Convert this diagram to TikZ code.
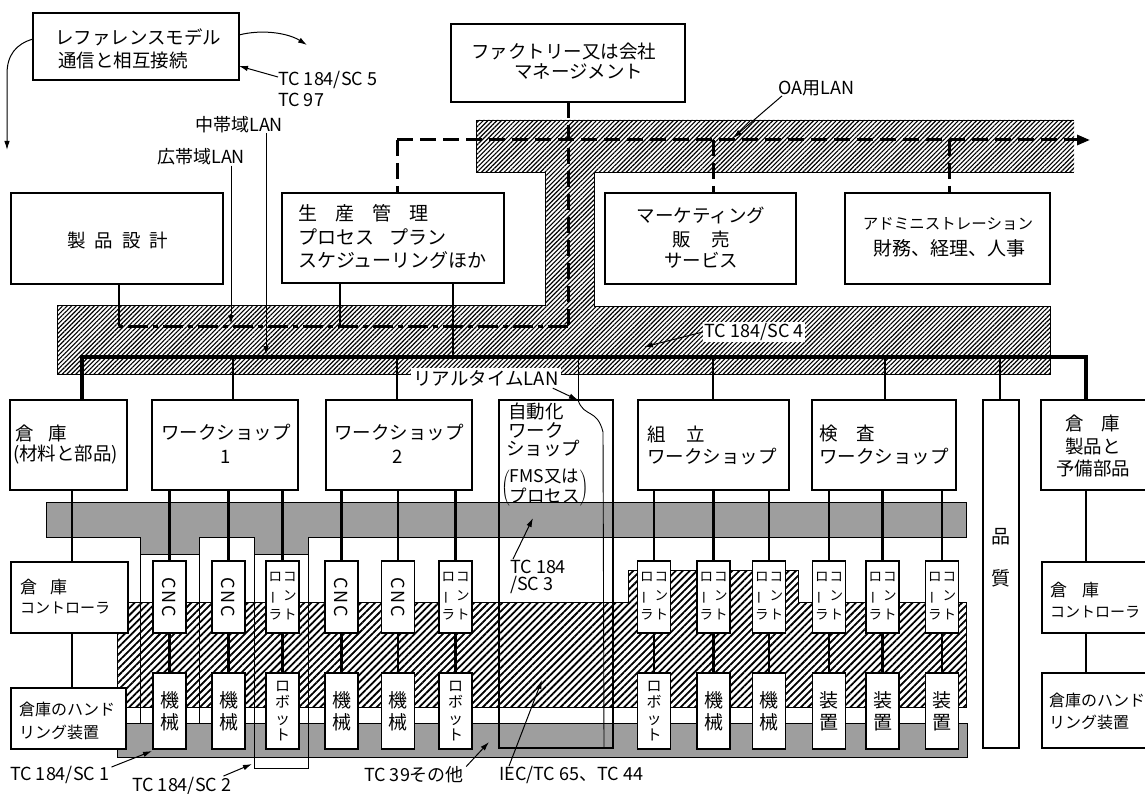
\documentclass[tikz,border=0pt]{standalone}
\usepackage{fontspec}
\usepackage{graphicx}
\setmainfont{Noto Sans CJK JP}
\usetikzlibrary{fit,patterns.meta,arrows.meta}
\newcommand\fsz[1]{\fontsize{#1}{#1}\selectfont}
\begin{document}
\begin{tikzpicture}[x=1pt,y=-1pt,
  box/.style={draw,line width=1.6pt,fill=white,inner sep=0pt,outer sep=0pt},
  tbox/.style={box,line width=2.6pt},
  cbox/.style={box,line width=1.3pt},
  tx/.style={inner sep=0pt,font=\fsz{18.5}},
  lb/.style={inner sep=0pt,font=\fsz{18}},
  busl/.style={line width=3.3pt},
  wire/.style={line width=2.8pt},
  hair/.style={line width=0.9pt},
  oa/.style={line width=3pt,dash pattern=on 16pt off 7pt},
  bb/.style={line width=3pt,dash pattern=on 20pt off 5pt on 5pt off 5pt},
  arr/.style={line width=1pt,-{Latex[length=9pt,width=5.5pt]}},
  hatchA/.style={pattern={Lines[angle=45,distance=3.2pt,line width=1.15pt]}},
  hatchB/.style={pattern={Lines[angle=45,distance=5pt,line width=1.8pt]}},
  stip/.style={fill=black!38},
]
\fill[white] (0,0) rectangle (1145,794);
\useasboundingbox (0,0) rectangle (1145,794);

% ---------- background regions ----------
\path[hatchA] (476,120) -- (1074,120) -- (1074,172) -- (594,172) -- (594,306) -- (1050,306) -- (1050,374) -- (57,374) -- (57,305) -- (545,305) -- (545,172) -- (476,172) -- cycle;
\draw[hair] (1074,120) -- (476,120) -- (476,172) -- (545,172) -- (545,305) -- (57,305) -- (57,374) -- (1050,374) -- (1050,306) -- (594,306) -- (594,172) -- (1074,172);

\draw[hair,stip] (46,502) -- (966,502) -- (966,537) -- (308,537) -- (308,554) -- (254,554) -- (254,537) -- (199,537) -- (199,554) -- (140,554) -- (140,537) -- (46,537) -- cycle;

\draw[hair,hatchB] (117,602) -- (628,602) -- (628,570) -- (798,570) -- (798,602) -- (966,602) -- (966,707) -- (117,707) -- cycle;

\draw[hair,stip] (117,723) rectangle (967,757);

\draw[hair] (140,554) -- (140,723);
\draw[hair] (199,554) -- (199,723);
\draw[hair] (254,554) -- (254,768) -- (308,768) -- (308,554);

% ---------- boxes ----------
\node[tbox,fit={(33,13) (239,80)}] (ref) {};
\node[tbox,fit={(451,24) (685,102)}] (fac) {};
\node[box,fit={(11,193) (223,284)}] (prod) {};
\node[box,fit={(282,193) (504,283)}] (seisan) {};
\node[box,fit={(605,193) (796,284)}] (mkt) {};
\node[box,fit={(845,193) (1050,284)}] (adm) {};

\node[box,fit={(10,400) (127,490)}] (wh1) {};
\node[box,fit={(152,400) (298,490)}] (ws1) {};
\node[box,fit={(326,400) (472,490)}] (ws2) {};
\node[box,fill=none,fit={(499,400) (613,748)}] (auto) {};
\node[box,fit={(638,400) (789,490)}] (asm) {};
\node[box,fit={(812,400) (956,490)}] (ins) {};
\node[box,fit={(983,400) (1019,748)}] (qc) {};
\node[box,fit={(1041,400) (1150,490)}] (wh2) {};
\node[box,fit={(11,562) (128,633)}] (whc1) {};
\node[box,fit={(1042,562) (1150,633)}] (whc2) {};
\node[box,fit={(11,688) (126,749)}] (whh1) {};
\node[box,fit={(1042,673) (1150,748)}] (whh2) {};

\foreach \i/\x in {1/169.5,2/228.5,3/282.5,4/341.5,5/398,6/455.5,7/654,8/713.5,9/769,10/829,11/882.5,12/942}{
  \node[cbox,fit={(\x-16.5,561) (\x+16.5,633)}] (c\i) {};
  \node[cbox,fit={(\x-16.5,673) (\x+16.5,749)}] (m\i) {};
}

% ---------- LAN lines ----------
\coordinate (oaL) at (397,140);
\coordinate (oaR) at (1090,140);
\coordinate (oaM) at (713,140);
\coordinate (oaA) at (949,140);
\coordinate (bbR) at (568,326);
\coordinate (bbL) at (119,326);
\coordinate (bbS) at (340,326);

\draw[oa,-{Triangle[length=13pt,width=10pt]}] (oaL) -- (oaR);
\draw[oa] (oaL) -- (oaL |- seisan.north);
\draw[oa] (oaM) -- (oaM |- mkt.north);
\draw[oa] (oaA) -- (oaA |- adm.north);
\draw[oa] (fac.south) -- (fac.south |- bbR);
\draw[bb] (bbR) -- (bbL);
\draw[wire] (prod.south -| bbL) -- (bbL);
\draw[wire] (seisan.south -| bbS) -- (bbS);

\coordinate (dWH1) at (82,357);
\coordinate (dWS1) at (233,357);
\coordinate (dWS2) at (397,357);
\coordinate (dSP) at (453,357);
\coordinate (dAU) at (578,357);
\coordinate (dAS) at (713,357);
\coordinate (dIN) at (885,357);
\coordinate (dQC) at (1000,357);
\coordinate (dWH2) at (1086,357);

\draw[busl] (dWH1 |- wh1.north) -- (dWH1) -- (dWH2) -- (dWH2 |- wh2.north);
\draw[wire] (dWS1) -- (dWS1 |- ws1.north);
\draw[wire] (dWS2) -- (dWS2 |- ws2.north);
\draw[wire] (dSP) -- (dSP |- seisan.south);
\draw[wire] (dAS) -- (dAS |- asm.north);
\draw[wire] (dIN) -- (dIN |- ins.north);
\draw[wire] (dQC) -- (dQC |- qc.north);
\draw[hair] (dAU) -- (dAU |- auto.north);
\coordinate (autoB) at (604,748);
\draw[hair] (dAU |- auto.north) .. controls (584,418) and (597,408) .. (603,432) -- (autoB);

% ---------- shop floor connectors ----------
\foreach \i in {1,2,3}{\draw[wire] (ws1.south -| c\i) -- (c\i.north);}
\foreach \i in {4,5,6}{\draw[wire] (ws2.south -| c\i) -- (c\i.north);}
\foreach \i in {7,8,9}{\draw[wire] (asm.south -| c\i) -- (c\i.north);}
\foreach \i in {10,11,12}{\draw[wire] (ins.south -| c\i) -- (c\i.north);}
\foreach \i in {1,...,12}{\draw[wire] (c\i.south) -- (m\i.north);}

\coordinate (wx1) at (72,0);
\coordinate (wx2) at (1086,0);
\draw[wire] (wh1.south -| wx1) -- (whc1.north -| wx1);
\draw[wire] (whc1.south -| wx1) -- (whh1.north -| wx1);
\draw[wire] (wh2.south -| wx2) -- (whc2.north -| wx2);
\draw[wire] (whc2.south -| wx2) -- (whh2.north -| wx2);

% ---------- texts in boxes ----------
\node[tx,anchor=west] (refT1) at (55,37) {レファレンスモデル};
\node[tx,anchor=west] (refT2) at (58,60) {通信と相互接続};
\node[tx,anchor=west] (facT1) at (471,52) {ファクトリー又は会社};
\node[tx,anchor=west] (facT2) at (514,72) {マネージメント};
\node[tx] (prodT) at (118,240) {製\hspace{9pt}品\hspace{9pt}設\hspace{9pt}計};
\node[tx,font=\fsz{19},anchor=west] (spT1) at (298,213) {生\hspace{18pt}産\hspace{18pt}管\hspace{18pt}理};
\node[tx,font=\fsz{19},anchor=west] (spT2) at (298,237) {プロセス\hspace{15pt}プラン};
\node[tx,font=\fsz{19},anchor=west] (spT3) at (298,260) {スケジューリングほか};
\node[tx] (mkT1) at (701,215) {マーケティング};
\node[tx] (mkT2) at (701,239) {販\hspace{21pt}売};
\node[tx] (mkT3) at (701,260) {サービス};
\node[tx,font=\fsz{15.5}] (adT1) at (948,224) {アドミニストレーション};
\node[tx,font=\fsz{19}] (adT2) at (949,248) {財務、経理、人事};

\node[tx,anchor=west] (wh1T1) at (15,433) {倉\hspace{15pt}庫};
\node[tx,anchor=west] (wh1T2) at (13,455) {(材料と部品)};
\node[tx] (ws1T1) at (226,433) {ワークショップ};
\node[tx] (ws1T2) at (226,457) {1};
\node[tx] (ws2T1) at (399,433) {ワークショップ};
\node[tx] (ws2T2) at (398,457) {2};
\node[tx,anchor=west] (auT1) at (508,411) {自動化};
\node[tx,anchor=west] (auT2) at (508,430) {ワーク};
\node[tx,anchor=west] (auT3) at (506,449) {ショップ};
\node[tx,font=\fsz{17},anchor=west] (auT4) at (501,488) {$\left(\vcenter{\hbox{\fontsize{17.5}{17}\selectfont\begin{tabular}{@{}l@{}}FMS又は\\プロセス\end{tabular}}}\right)$};
\node[tx,anchor=west] (asT1) at (647,434) {組\hspace{21pt}立};
\node[tx,anchor=west] (asT2) at (647,457) {ワークショップ};
\node[tx,anchor=west] (inT1) at (819,434) {検\hspace{19pt}査};
\node[tx,anchor=west] (inT2) at (819,457) {ワークショップ};
\node[tx,font=\fsz{19}] (qcT1) at (1001,537) {品};
\node[tx,font=\fsz{19}] (qcT2) at (1001,578) {質};
\node[tx] (wh2T1) at (1093,423) {倉\hspace{18pt}庫};
\node[tx] (wh2T2) at (1093,446) {製品と};
\node[tx] (wh2T3) at (1093,469) {予備部品};

\node[tx,font=\fsz{17},anchor=west] (wc1T1) at (20,587) {倉\hspace{13pt}庫};
\node[tx,font=\fsz{15},anchor=west] (wc1T2) at (20,608) {コントローラ};
\node[tx,font=\fsz{17},anchor=west] (wc2T1) at (1050,590) {倉\hspace{15pt}庫};
\node[tx,font=\fsz{15},anchor=west] (wc2T2) at (1050,612) {コントローラ};
\node[tx,font=\fsz{16},anchor=west] (wd1T1) at (19,709) {倉庫のハンド};
\node[tx,font=\fsz{16},anchor=west] (wd1T2) at (19,732) {リング装置};
\node[tx,font=\fsz{16},anchor=west] (wd2T1) at (1049,700) {倉庫のハンド};
\node[tx,font=\fsz{16},anchor=west] (wd2T2) at (1049,722) {リング装置};

\foreach \i in {1,2,4,5}{
  \node[inner sep=0pt,rotate=-90,font=\fsz{18}] (ct\i) at (c\i) {C\hspace{2pt}N\hspace{2pt}C};
}
\foreach \i in {3,6,7,8,9,10,11,12}{
  \node[inner sep=0pt,font=\fontsize{13.5}{19}\selectfont] (ct\i) at (c\i)
    {\begin{tabular}{@{}c@{\hspace{1pt}}c@{}}ロ&コ\\\rotatebox[origin=c]{90}{ー}&ン\\ラ&ト\end{tabular}};
}
\foreach \i in {1,2,4,5,8,9}{
  \node[inner sep=0pt,align=center,font=\fontsize{19}{22}\selectfont] (mt\i) at (m\i) {機\\械};
}
\foreach \i in {3,6,7}{
  \node[inner sep=0pt,align=center,font=\fontsize{15}{16.5}\selectfont] (mt\i) at (m\i) {ロ\\ボ\\ッ\\ト};
}
\foreach \i in {10,11,12}{
  \node[inner sep=0pt,align=center,font=\fontsize{19}{22}\selectfont] (mt\i) at (m\i) {装\\置};
}

% ---------- labels and arrows ----------
\coordinate (refA) at (307,45);
\coordinate (refB) at (7,150);
\draw[arr] ([yshift=11.5pt]ref.east) .. controls (262,29) and (288,33) .. (refA);
\draw[arr] ([yshift=7.5pt]ref.west) .. controls (16,44) and (7,55) .. (7,74) -- (refB);

\node[lb,anchor=west] (tc5) at (278,80) {TC 184/SC 5};
\node[lb,anchor=west] (tc97) at (278,100) {TC 97};
\draw[arr] ([yshift=3pt]tc5.west) -- ([yshift=-19.5pt]ref.east);

\node[lb,anchor=west] (midl) at (195,125) {中帯域LAN};
\node[lb,anchor=west] (brl) at (157,157) {広帯域LAN};
\coordinate (midT) at (266,355);
\coordinate (brT) at (231,324);
\draw[arr] (midl.south -| midT) -- (midT);
\draw[arr] (brl.south -| brT) -- (brT);

\node[lb,anchor=west] (oal) at (778,88) {OA用LAN};
\coordinate (oaT) at (733,138);
\draw[arr] ([xshift=4pt]oal.south west) -- (oaT);

\node[lb,fill=white,inner sep=1.5pt] (sc4) at (754,332) {TC 184/SC 4};
\coordinate (sc4T) at (644,347);
\draw[arr] (sc4.west) -- (sc4T);

\node[tx,fill=white,inner sep=2pt] (rtl) at (486,378) {リアルタイムLAN};
\draw[arr] ([xshift=-8pt]rtl.south east) -- (dAU |- auto.north);

\node[lb,anchor=west] (sc3a) at (510,567) {TC 184};
\node[lb,anchor=west] (sc3b) at (510,585) {/SC 3};
\coordinate (sc3T) at (533,518);
\draw[arr] ([xshift=3pt,yshift=1pt]sc3a.north west) -- (sc3T);

\node[lb,anchor=west] (sc1) at (10,775) {TC 184/SC 1};
\coordinate (sc1T) at (152,751);
\draw[arr] ([xshift=2pt,yshift=-1pt]sc1.north east) -- (sc1T);

\node[lb,anchor=west] (sc2) at (132,786) {TC 184/SC 2};
\coordinate (sc2T) at (252,764);
\draw[arr] ([xshift=-8pt,yshift=1pt]sc2.north east) -- (sc2T);

\node[lb,anchor=west] (tc39) at (364,775) {TC 39その他};
\coordinate (tc39T) at (489,742);
\draw[arr] ([xshift=2pt]tc39.north east) -- (tc39T);

\node[lb,anchor=west] (iec) at (499,775) {IEC/TC 65、TC 44};
\coordinate (iecT) at (542,680);
\draw[arr] ([xshift=10pt]iec.north west) -- (iecT);
\end{tikzpicture}
\end{document}
